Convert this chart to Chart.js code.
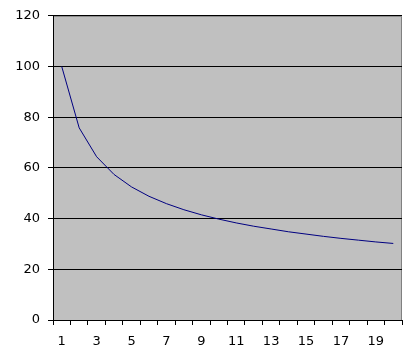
<!DOCTYPE html>
<html>
<head>
<meta charset="utf-8">
<script src="https://cdn.jsdelivr.net/npm/chart.js@4.4.0/dist/chart.umd.min.js"></script>
<style>
  html, body { margin: 0; padding: 0; background: #fff; }
  #wrap { width: 408px; height: 358px; position: relative; }
</style>
</head>
<body>
<div id="wrap"><canvas id="chart"></canvas></div>
<script>
// 数据
const categories = ['1','2','3','4','5','6','7','8','9','10','11','12','13','14','15','16','17','18','19','20'];
const values = [100, 75.8, 64.4, 57.4, 52.5, 48.8, 45.9, 43.5, 41.5, 39.8, 38.3, 37.0, 35.9, 34.8, 33.9, 33.0, 32.2, 31.5, 30.8, 30.2];
const yTicks = [0, 20, 40, 60, 80, 100, 120];

// 灰色绘图区背景和边框
const plotArea = {
  id: 'plotArea',
  beforeDraw(chart) {
    const { ctx, chartArea: a } = chart;
    ctx.save();
    ctx.fillStyle = '#c0c0c0';
    ctx.fillRect(a.left, a.top, a.right - a.left, a.bottom - a.top);
    ctx.strokeStyle = '#808080';
    ctx.lineWidth = 1;
    ctx.beginPath();
    ctx.moveTo(a.left, a.top + 0.5);
    ctx.lineTo(a.right - 0.5, a.top + 0.5);
    ctx.lineTo(a.right - 0.5, a.bottom);
    ctx.stroke();
    ctx.restore();
  }
};

new Chart(document.getElementById('chart'), {
  type: 'line',
  data: {
    labels: categories,
    datasets: [{
      data: values,
      borderColor: '#000080',
      borderWidth: 1,
      pointRadius: 0,
      fill: false,
      tension: 0
    }]
  },
  options: {
    responsive: true,
    maintainAspectRatio: false,
    animation: false,
    layout: { padding: { top: 14, right: 6, left: 0, bottom: 0 } },
    plugins: {
      legend: { display: false },
      tooltip: { enabled: false }
    },
    scales: {
      x: {
        type: 'category',
        offset: true,
        afterFit: s => { s.height = 38; },
        grid: {
          offset: true,
          drawOnChartArea: false,
          drawTicks: true,
          tickLength: 5,
          color: '#000'
        },
        border: { color: '#000', width: 1 },
        ticks: {
          autoSkip: false,
          maxRotation: 0,
          padding: 9,
          color: '#000',
          font: { family: 'DejaVu Sans', size: 13 },
          callback: (v, i) => (i % 2 === 0 ? categories[i] : '')
        }
      },
      y: {
        min: 0,
        max: 120,
        afterFit: s => { s.width = 53; },
        afterBuildTicks: s => { s.ticks = yTicks.map(v => ({ value: v })); },
        grid: {
          color: '#000',
          lineWidth: 1,
          drawTicks: true,
          tickLength: 5
        },
        border: { color: '#000', width: 1 },
        ticks: {
          padding: 8,
          color: '#000',
          font: { family: 'DejaVu Sans', size: 13 }
        }
      }
    }
  },
  plugins: [plotArea]
});
</script>
</body>
</html>
